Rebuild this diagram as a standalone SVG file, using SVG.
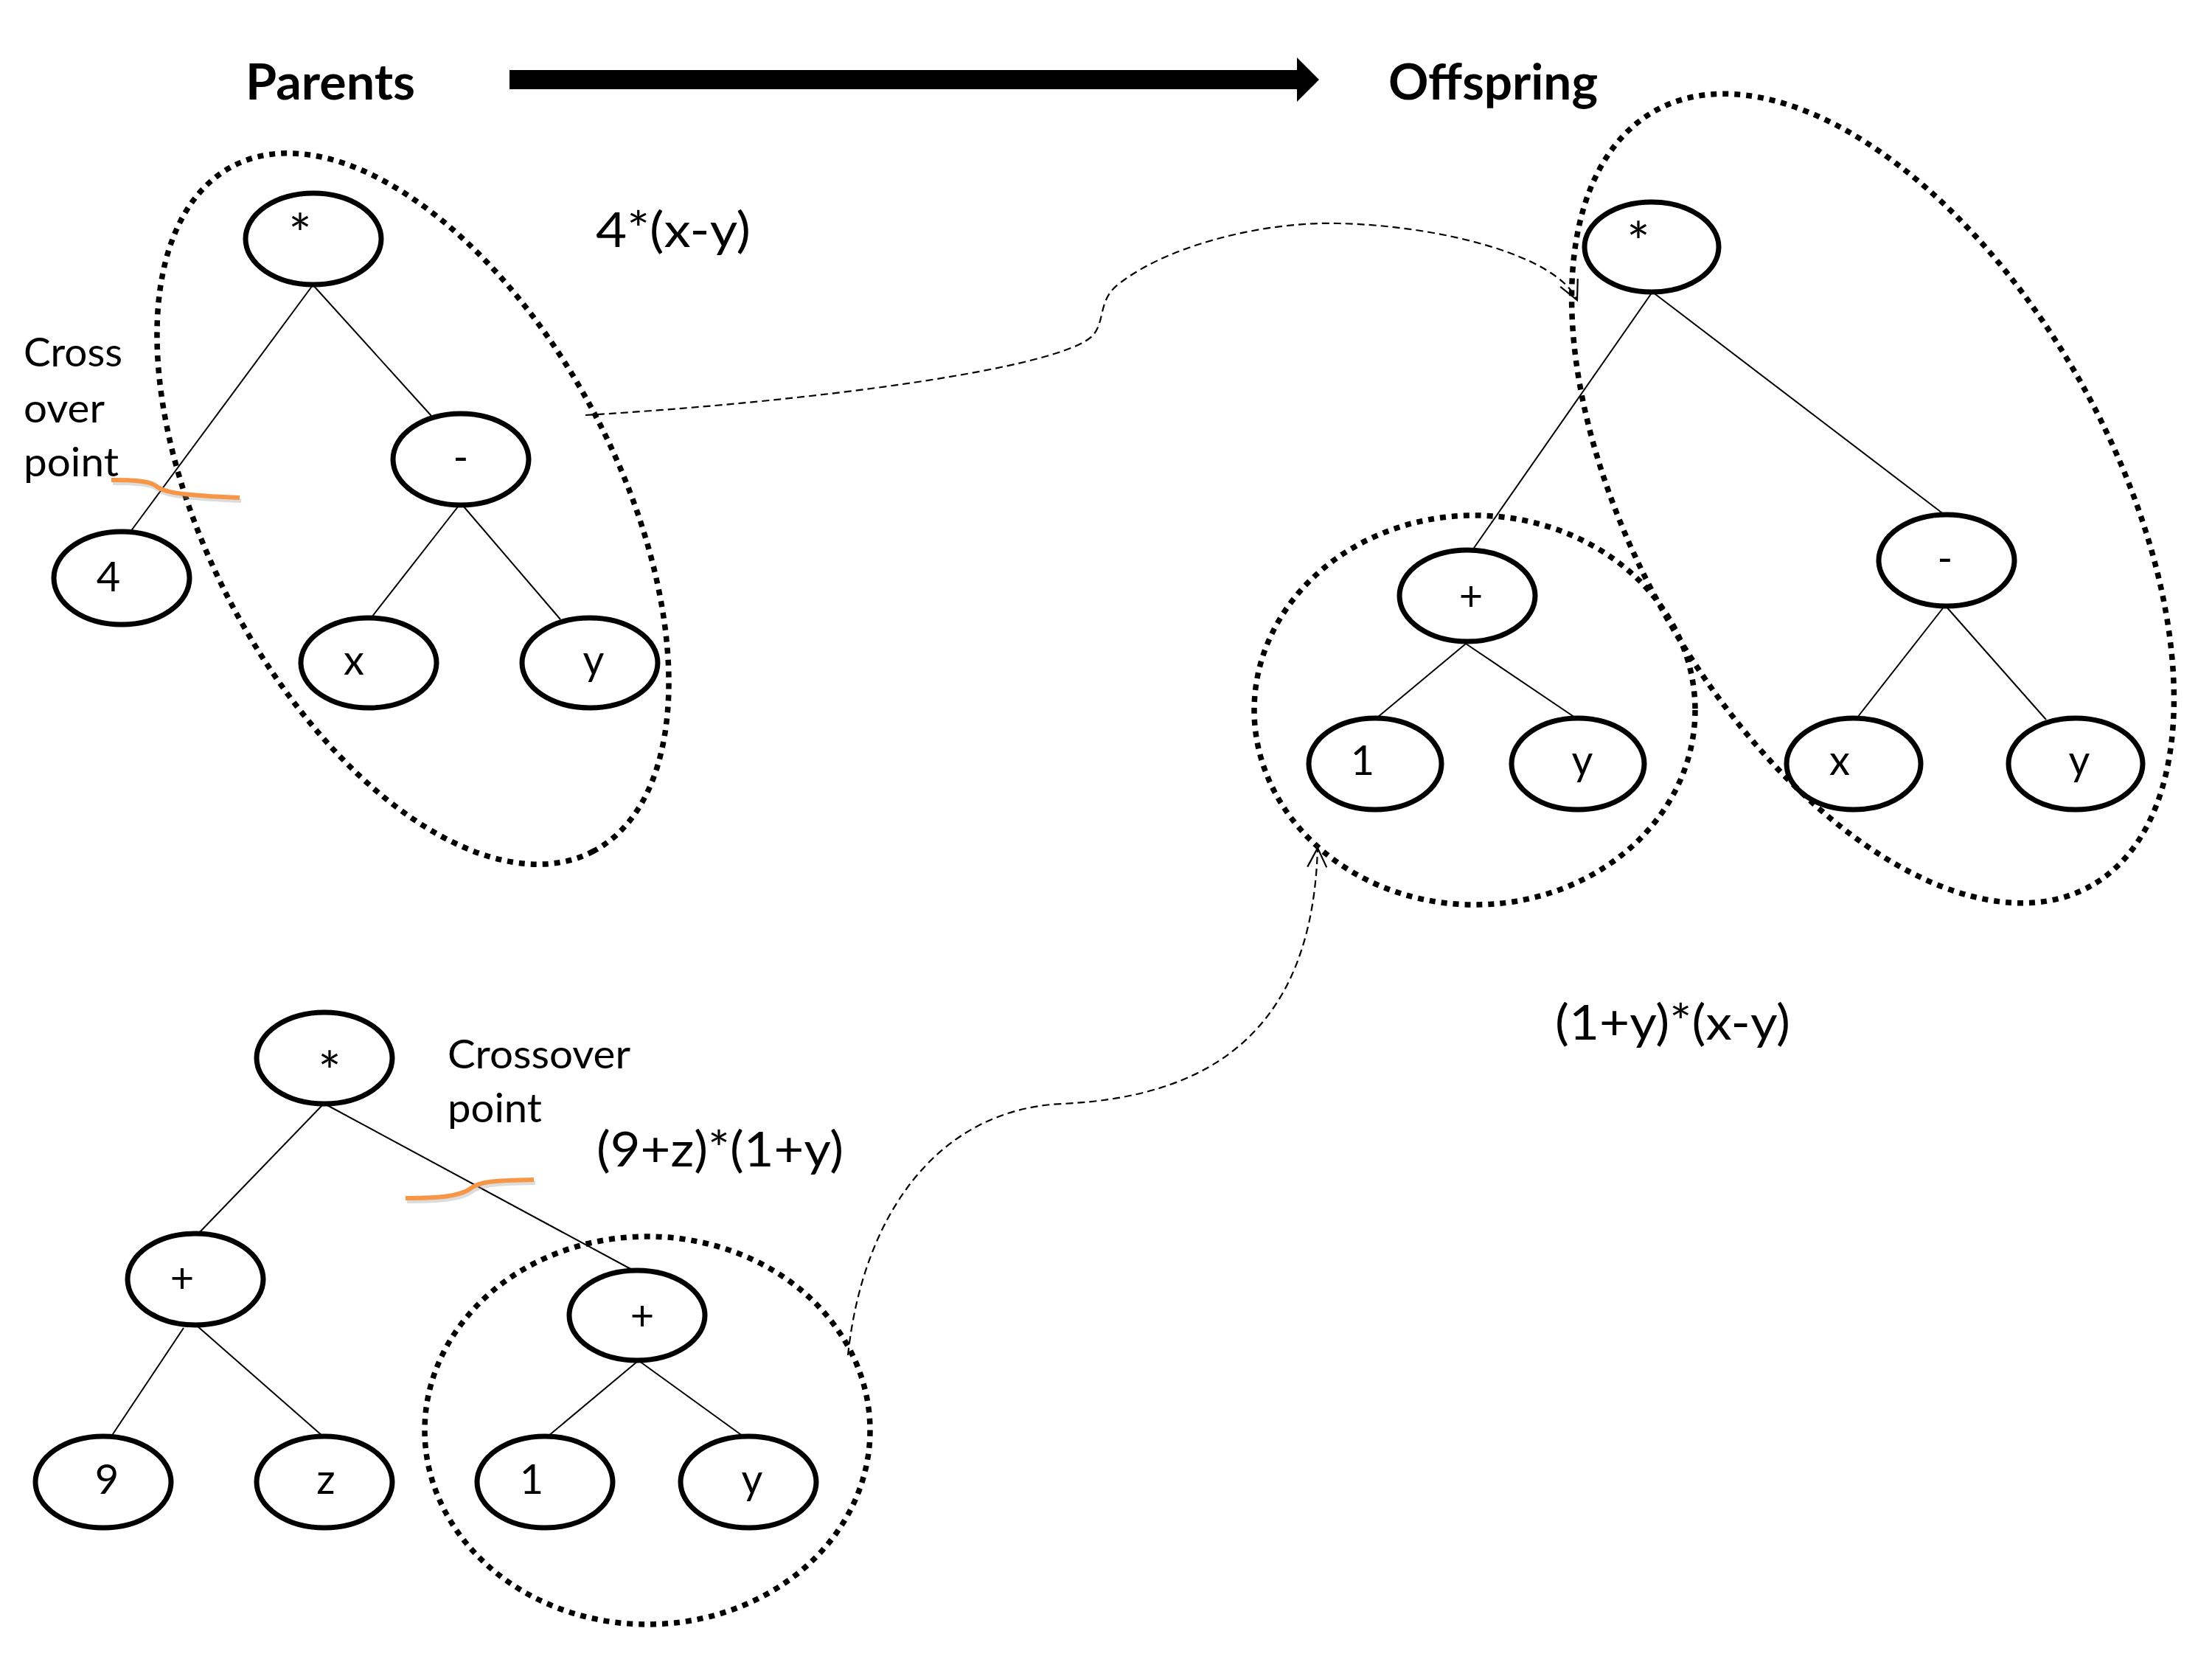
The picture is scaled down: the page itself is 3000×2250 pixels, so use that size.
<svg xmlns="http://www.w3.org/2000/svg" width="3000" height="2250" viewBox="0 0 3000 2250">
<style>
  .bg { fill: #ffffff; }
  .node { fill: #ffffff; stroke: #000000; stroke-width: 7; }
  .edge { stroke: #000000; stroke-width: 2; fill: none; }
  .lbl { font-family: Lato, "Liberation Sans", sans-serif; font-size: 56px; fill: #000000; text-anchor: middle; }
  .ast { font-size: 74px; }
  .title { font-family: Lato, "Liberation Sans", sans-serif; font-size: 66px; font-weight: bold; fill: #000000; }
  .expr { font-family: Lato, "Liberation Sans", sans-serif; font-size: 66px; fill: #000000; }
  .note { font-family: Lato, "Liberation Sans", sans-serif; font-size: 54px; fill: #000000; }
  .group { fill: none; stroke: #000000; stroke-width: 7.5; stroke-dasharray: 8 8; }
  .link { fill: none; stroke: #000000; stroke-width: 2.2; stroke-dasharray: 10 6; }
  .cut { fill: none; stroke: #F79646; stroke-width: 6; stroke-linecap: butt; }
  .cutshadow { fill: none; stroke: #9a9a9a; stroke-width: 6; opacity: 0.35; }
</style>
<defs>
  <marker id="openArrow" viewBox="0 0 30 30" refX="28" refY="15" markerWidth="30" markerHeight="30" markerUnits="userSpaceOnUse" orient="auto">
    <path d="M 2 2 L 28 15 L 2 28" fill="none" stroke="#000000" stroke-width="2.2"/>
  </marker>
</defs>
<rect class="bg" x="0" y="0" width="3000" height="2250"/>

<!-- headings -->
<g id="heading-parents"><text class="title" x="333" y="135" textLength="230" lengthAdjust="spacingAndGlyphs">Parents</text></g>
<g id="heading-offspring"><text class="title" x="1883" y="135" textLength="284" lengthAdjust="spacingAndGlyphs">Offspring</text></g>
<g id="big-arrow"><polygon points="691,95 1759,95 1759,78 1789,108 1759,138 1759,121 691,121" fill="#000000"/></g>

<!-- tree edges -->
<g id="connectors">
  <!-- parent 1 -->
  <line class="edge" x1="424" y1="387" x2="177" y2="721"/>
  <line class="edge" x1="424" y1="386" x2="585" y2="564"/>
  <line class="edge" x1="622" y1="686" x2="504" y2="837"/>
  <line class="edge" x1="628" y1="686" x2="760" y2="840"/>
  <!-- parent 2 -->
  <line class="edge" x1="438" y1="1498" x2="269" y2="1673"/>
  <line class="edge" x1="442" y1="1498" x2="859" y2="1723"/>
  <line class="edge" x1="249" y1="1801" x2="151" y2="1948"/>
  <line class="edge" x1="267" y1="1798" x2="438" y2="1948"/>
  <line class="edge" x1="865" y1="1846" x2="743" y2="1948"/>
  <line class="edge" x1="867" y1="1846" x2="1008" y2="1948"/>
  <!-- offspring -->
  <line class="edge" x1="2241" y1="396" x2="1997" y2="746"/>
  <line class="edge" x1="2241" y1="396" x2="2637" y2="698"/>
  <line class="edge" x1="1988" y1="873" x2="1868" y2="973"/>
  <line class="edge" x1="1988" y1="873" x2="2136" y2="973"/>
  <line class="edge" x1="2638" y1="821" x2="2519" y2="973"/>
  <line class="edge" x1="2638" y1="821" x2="2775" y2="976"/>
  <!-- crossover links -->
  <path class="link" marker-end="url(#openArrow)" d="M 794 563 C 1100 545, 1440 500, 1482 455 C 1500 435, 1488 405, 1520 383 C 1590 330, 1720 300, 1816 303 C 1950 306, 2110 345, 2139 407"/>
  <path class="link" marker-end="url(#openArrow)" d="M 1150 1838 C 1170 1650, 1270 1505, 1440 1497 C 1640 1488, 1780 1400, 1787 1150"/>
</g>

<!-- parent 1 nodes -->
<g id="p1-mul"><ellipse class="node" cx="425" cy="324" rx="92" ry="62"/><text class="lbl ast" x="407" y="344">*</text></g>
<g id="p1-minus"><ellipse class="node" cx="625" cy="623" rx="92" ry="62"/><text class="lbl" x="625" y="640">-</text></g>
<g id="p1-4"><ellipse class="node" cx="165" cy="784" rx="92" ry="63"/><text class="lbl" x="147" y="802">4</text></g>
<g id="p1-x"><ellipse class="node" cx="500" cy="899" rx="92" ry="61"/><text class="lbl" x="480" y="915">x</text></g>
<g id="p1-y"><ellipse class="node" cx="800" cy="899" rx="92" ry="61"/><text class="lbl" x="805" y="915">y</text></g>

<!-- parent 2 nodes -->
<g id="p2-mul"><ellipse class="node" cx="440" cy="1435" rx="92" ry="62"/><text class="lbl ast" x="447" y="1480">*</text></g>
<g id="p2-plusL"><ellipse class="node" cx="265" cy="1735" rx="92" ry="62"/><text class="lbl" x="247" y="1753">+</text></g>
<g id="p2-plusR"><ellipse class="node" cx="864" cy="1784" rx="92" ry="61"/><text class="lbl" x="871" y="1804">+</text></g>
<g id="p2-9"><ellipse class="node" cx="140" cy="2010" rx="92" ry="62"/><text class="lbl" x="145" y="2026">9</text></g>
<g id="p2-z"><ellipse class="node" cx="440" cy="2010" rx="92" ry="62"/><text class="lbl" x="442" y="2026">z</text></g>
<g id="p2-1"><ellipse class="node" cx="739" cy="2010" rx="92" ry="62"/><text class="lbl" x="721" y="2026">1</text></g>
<g id="p2-y"><ellipse class="node" cx="1015" cy="2010" rx="92" ry="62"/><text class="lbl" x="1020" y="2026">y</text></g>

<!-- offspring nodes -->
<g id="o-mul"><ellipse class="node" cx="2240" cy="335" rx="91" ry="61"/><text class="lbl ast" x="2222" y="355">*</text></g>
<g id="o-plus"><ellipse class="node" cx="1990" cy="808" rx="92" ry="62"/><text class="lbl" x="1995" y="828">+</text></g>
<g id="o-minus"><ellipse class="node" cx="2640" cy="760" rx="92" ry="62"/><text class="lbl" x="2638" y="777">-</text></g>
<g id="o-1"><ellipse class="node" cx="1865" cy="1036" rx="90" ry="62"/><text class="lbl" x="1848" y="1051">1</text></g>
<g id="o-y1"><ellipse class="node" cx="2140" cy="1036" rx="90" ry="62"/><text class="lbl" x="2146" y="1051">y</text></g>
<g id="o-x"><ellipse class="node" cx="2514" cy="1036" rx="91" ry="62"/><text class="lbl" x="2495" y="1051">x</text></g>
<g id="o-y2"><ellipse class="node" cx="2815" cy="1036" rx="91" ry="62"/><text class="lbl" x="2820" y="1051">y</text></g>

<!-- dotted subtree groupings -->
<g id="groupings">
  <ellipse class="group" cx="560" cy="690" rx="525" ry="278" transform="rotate(62.2 560 690)"/>
  <ellipse class="group" cx="878" cy="1940" rx="302" ry="263"/>
  <ellipse class="group" cx="2000" cy="963" rx="299" ry="264"/>
  <ellipse class="group" cx="2540" cy="676" rx="603" ry="323" transform="rotate(60.6 2540 676)"/>
</g>

<!-- crossover point marks -->
<g id="cut-p1">
  <path class="cutshadow" d="M 153 655 C 182 655, 202 656, 212 662 C 222 671, 237 675, 327 679"/>
  <path class="cut" d="M 151 651 C 180 651, 200 652, 210 658 C 220 667, 235 671, 325 675"/>
</g>
<g id="cut-p2">
  <path class="cutshadow" d="M 552 1629 C 600 1629, 626 1626, 640 1616 C 652 1607, 666 1605, 726 1604"/>
  <path class="cut" d="M 550 1625 C 598 1625, 624 1622, 638 1612 C 650 1603, 664 1601, 724 1600"/>
</g>

<!-- annotations -->
<g id="label-cross-over-point-1">
  <text class="note" x="32" y="497" textLength="134" lengthAdjust="spacingAndGlyphs">Cross</text>
  <text class="note" x="32" y="573" textLength="110" lengthAdjust="spacingAndGlyphs">over</text>
  <text class="note" x="32" y="646" textLength="129" lengthAdjust="spacingAndGlyphs">point</text>
</g>
<g id="label-crossover-point-2">
  <text class="note" x="607" y="1449" textLength="248" lengthAdjust="spacingAndGlyphs">Crossover</text>
  <text class="note" x="607" y="1522" textLength="128" lengthAdjust="spacingAndGlyphs">point</text>
</g>
<g id="expr-p1"><text class="expr" x="808" y="335" textLength="210" lengthAdjust="spacingAndGlyphs">4*(x-y)</text></g>
<g id="expr-p2"><text class="expr" x="809" y="1582" textLength="335" lengthAdjust="spacingAndGlyphs">(9+z)*(1+y)</text></g>
<g id="expr-o"><text class="expr" x="2109" y="1410" textLength="319" lengthAdjust="spacingAndGlyphs">(1+y)*(x-y)</text></g>
</svg>
